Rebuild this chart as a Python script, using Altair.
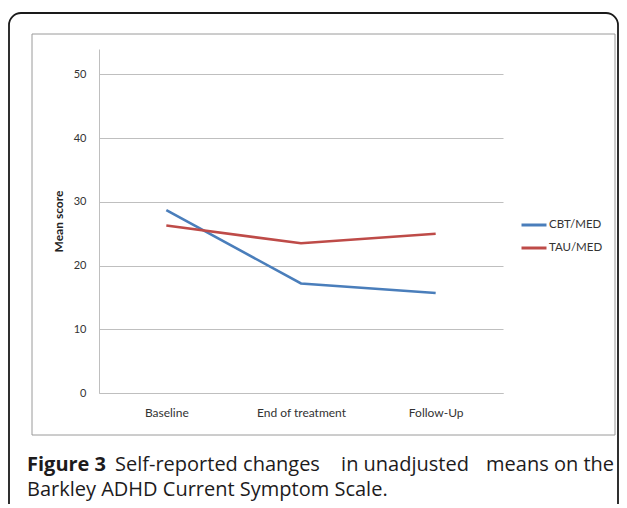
import altair as alt
import pandas as pd

categories = ["Baseline", "End of treatment", "Follow-Up"]
series = ["CBT/MED", "TAU/MED"]
cbt_med = [28.7, 17.2, 15.7]
tau_med = [26.3, 23.5, 25.0]
colors = ["#4A7EBB", "#BE4B48"]
y_ticks = [0, 10, 20, 30, 40, 50]
y_title = "Mean score"
caption_bold = ["Figure 3"]
caption_line1a = ["Self-reported changes"]
caption_line1b = ["in unadjusted"]
caption_line1c = ["means on the"]
caption_line2 = ["Barkley ADHD Current Symptom Scale."]

rows = []
for s, vals in zip(series, [cbt_med, tau_med]):
    for c, v in zip(categories, vals):
        rows.append({"phase": c, "series": s, "score": v})
df = pd.DataFrame(rows)

W, H = 404, 344
CH_FONT = "Lato"
CAP_FONT = "Open Sans"
CAP_COLOR = "#1d1b1c"

one = pd.DataFrame({"k": [0]})

outer = alt.Chart(one).mark_rect(
    fillOpacity=0, stroke="#1a1a1a", strokeWidth=1.8, cornerRadius=12
).encode(x=alt.value(-90), x2=alt.value(519), y=alt.value(-36), y2=alt.value(480))

inner = alt.Chart(one).mark_rect(
    fillOpacity=0, stroke="#9a9a9a", strokeWidth=1
).encode(x=alt.value(-67), x2=alt.value(516), y=alt.value(-15), y2=alt.value(386))

lines = alt.Chart(df).mark_line(strokeWidth=2.6).encode(
    x=alt.X("phase:N", sort=categories,
            scale=alt.Scale(type="point", padding=0.5),
            axis=alt.Axis(title=None, labelAngle=0, ticks=False, grid=False,
                          domainColor="#BFBFBF", labelFont=CH_FONT, labelFontSize=12,
                          labelColor="#333333", labelPadding=14)),
    y=alt.Y("score:Q", scale=alt.Scale(domain=[0, 54], nice=False, zero=True),
            axis=alt.Axis(values=y_ticks, title=y_title, ticks=False,
                          gridColor="#BFBFBF", domainColor="#BFBFBF",
                          labelFont=CH_FONT, labelFontSize=11, labelColor="#333333",
                          labelPadding=13, titleFont=CH_FONT, titleFontSize=12,
                          titleFontWeight="bold", titleColor="#222222",
                          titleX=-41, titleY=172, titleAngle=270,
                          titleAlign="center", titleBaseline="middle")),
    color=alt.Color("series:N", sort=series,
                    scale=alt.Scale(domain=series, range=colors),
                    legend=alt.Legend(title=None, orient="none", legendX=421, legendY=162,
                                      symbolType="stroke", symbolSize=625,
                                      symbolStrokeWidth=3, labelOffset=1,
                                      labelFont=CH_FONT, labelFontSize=11.5,
                                      labelColor="#333333", rowPadding=3, padding=0)),
)

def cap(texts, x, y, align, weight="normal"):
    return alt.Chart(pd.DataFrame({"t": texts})).mark_text(
        align=align, baseline="alphabetic", font=CAP_FONT, fontWeight=weight,
        fontSize=20, color=CAP_COLOR
    ).encode(x=alt.value(x), y=alt.value(y), text="t:N")

cap_bold = cap(caption_bold, -72, 422, "left", "bold")
cap1a = cap(caption_line1a, 16, 422, "left")
cap1b = cap(caption_line1b, 306, 422, "center")
cap1c = cap(caption_line1c, 515, 422, "right")
cap2 = cap(caption_line2, -72, 447, "left")

chart = alt.layer(outer, inner, lines, cap_bold, cap1a, cap1b, cap1c, cap2).properties(
    width=W, height=H,
    autosize=alt.AutoSizeParams(type="none"),
    padding={"left": 91, "top": 41, "right": 116, "bottom": 111},
    background="white",
).configure_view(stroke=None)

chart.save("out.html", embed_options={"renderer": "svg", "actions": False})
